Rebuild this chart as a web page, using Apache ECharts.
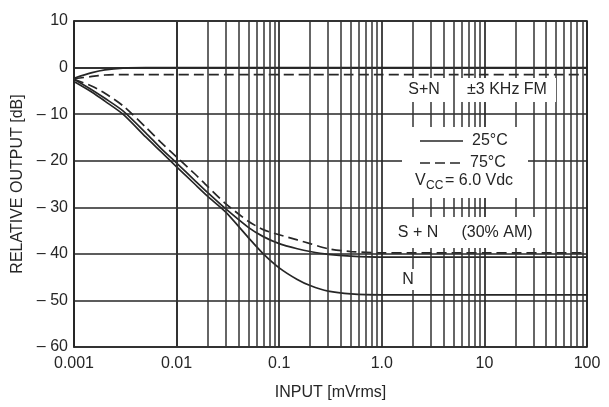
<!DOCTYPE html>
<html>
<head>
<meta charset="utf-8">
<script src="https://cdn.jsdelivr.net/npm/echarts@6/dist/echarts.min.js"></script>
<style>
  html, body { margin: 0; padding: 0; background: #fff; }
  #chart { width: 609px; height: 407px; }
</style>
</head>
<body>
<div id="chart"></div>
<script>
// Input level in mVrms (log axis)
const inputMv = [0.001, 0.0015, 0.002, 0.003, 0.005, 0.007, 0.01, 0.015, 0.02, 0.03,
                 0.05, 0.07, 0.1, 0.15, 0.2, 0.3, 0.5, 1, 2, 5, 10, 20, 50, 100];

// Relative output in dB
const fm25 = [-2.3, -1.1, -0.5, -0.1, 0, 0, 0, 0, 0, 0, 0, 0, 0, 0, 0, 0, 0, 0, 0, 0, 0, 0, 0, 0];
const fm75 = [-2.4, -1.9, -1.6, -1.5, -1.5, -1.5, -1.5, -1.5, -1.5, -1.5, -1.5, -1.5, -1.5, -1.5,
              -1.5, -1.5, -1.5, -1.5, -1.5, -1.5, -1.5, -1.5, -1.5, -1.5];
const am25 = [-2.5, -4.8, -6.6, -9.3, -14.0, -17.3, -20.5, -24.2, -26.8, -30.3, -34.3, -36.3,
              -37.8, -38.9, -39.5, -40.1, -40.5, -40.7, -40.7, -40.7, -40.7, -40.7, -40.7, -40.7];
const am75 = [-2.5, -4.0, -5.5, -8.2, -12.8, -16.0, -19.2, -22.8, -25.5, -29.2, -33.0, -34.8,
              -35.9, -37.0, -37.8, -38.9, -39.5, -39.8, -39.8, -39.8, -39.8, -39.8, -39.8, -39.8];
const noise25 = [-3.0, -5.3, -7.2, -10.0, -14.9, -18.0, -21.3, -25.0, -27.6, -31.0, -36.5, -40.0,
                 -43.0, -45.5, -46.8, -48.0, -48.6, -48.8, -48.8, -48.8, -48.8, -48.8, -48.8, -48.8];

// Tick labels
const xTickLabels = ['0.001', '0.01', '0.1', '1.0', '10', '100'];
const yTicks = [10, 0, -10, -20, -30, -40, -50, -60];

// Intermediate log grid lines (2..9 within each decade)
const minorGrid = [];
for (let d = -3; d < 2; d++) {
  for (let m = 2; m <= 9; m++) minorGrid.push(+(m * Math.pow(10, d)).toPrecision(3));
}

const INK = '#262626';
const FONT = 'Liberation Sans, Arial, sans-serif';

function pairs(ys) { return inputMv.map((x, i) => [x, ys[i]]); }

function curve(name, ys, dashed, extra) {
  return Object.assign({
    name: name,
    type: 'line',
    data: pairs(ys),
    smooth: 0.25,
    showSymbol: false,
    symbol: 'none',
    z: 2,
    lineStyle: { color: INK, width: 1.7, type: dashed ? [10, 5] : 'solid' },
    itemStyle: { color: INK }
  }, extra || {});
}

const chart = echarts.init(document.getElementById('chart'), null, { renderer: 'canvas' });

const box = (x, y, w, h) => ({ type: 'rect', z: 50, shape: { x: x, y: y, width: w, height: h }, style: { fill: '#fff' } });
const label = (x, y, text, align, size) => ({
  type: 'text', z: 60,
  style: { x: x, y: y, text: text, align: align || 'center', verticalAlign: 'middle', font: (size || 16) + 'px ' + FONT, fill: INK }
});
const sample = (y, dashed) => ({
  type: 'line', z: 60,
  shape: { x1: 420, y1: y, x2: 463, y2: y },
  style: { stroke: INK, lineWidth: 1.7, lineDash: dashed ? [10, 5] : null }
});

chart.setOption({
  backgroundColor: '#fff',
  animation: false,
  textStyle: { fontFamily: FONT, color: INK },
  grid: { left: 74, right: 22, top: 21, bottom: 60, show: true, borderColor: INK, borderWidth: 1.7 },
  xAxis: {
    type: 'log',
    logBase: 10,
    min: 0.001,
    max: 100,
    name: 'INPUT [mVrms]',
    nameLocation: 'middle',
    nameGap: 38,
    nameTextStyle: { fontFamily: FONT, fontSize: 16, color: INK },
    axisLine: { lineStyle: { color: INK, width: 1.7 } },
    axisTick: { show: false },
    axisLabel: {
      fontFamily: FONT, fontSize: 16, color: INK, margin: 9,
      formatter: v => xTickLabels[Math.round(Math.log10(v)) + 3]
    },
    splitLine: { show: true, lineStyle: { color: INK, width: 1.7 } }
  },
  yAxis: {
    type: 'value',
    min: -60,
    max: 10,
    interval: 10,
    name: 'RELATIVE OUTPUT [dB]',
    nameLocation: 'middle',
    nameGap: 48,
    nameTextStyle: { fontFamily: FONT, fontSize: 16, color: INK },
    axisLine: { lineStyle: { color: INK, width: 1.7 } },
    axisTick: { show: false },
    axisLabel: {
      fontFamily: FONT, fontSize: 16, color: INK, margin: 6,
      formatter: v => (yTicks.indexOf(v) < 0 ? '' : (v < 0 ? '\u2013 ' + (-v) : String(v)))
    },
    splitLine: { show: true, lineStyle: { color: INK, width: 1.6 } }
  },
  series: [
    curve('25°C', fm25, false, {
      markLine: {
        silent: true,
        symbol: 'none',
        animation: false,
        label: { show: false },
        lineStyle: { color: '#333', width: 1.5, type: 'solid' },
        data: minorGrid.map(v => ({ xAxis: v }))
      }
    }),
    curve('75°C', fm75, true),
    curve('25°C', am25, false),
    curve('75°C', am75, true),
    curve('25°C', noise25, false)
  ],
  graphic: [
    // white boxes break the grid behind the annotations
    box(400, 78, 48, 24),
    box(458, 78, 98, 24),
    box(402, 127, 126, 71),
    box(393, 217, 144, 31),
    box(398, 269, 20, 21),
    label(424, 90, 'S+N'),
    label(507, 90, '\u00b13 KHz FM'),
    sample(141, false),
    label(472, 141, '25°C', 'left'),
    sample(163, true),
    label(470, 163, '75°C', 'left'),
    label(415, 181, 'V', 'left'),
    label(426, 186, 'CC', 'left', 12),
    label(445, 181, '= 6.0 Vdc', 'left'),
    label(418, 233, 'S + N'),
    label(497, 233, '(30% AM)'),
    label(408, 280, 'N')
  ]
});
</script>
</body>
</html>
